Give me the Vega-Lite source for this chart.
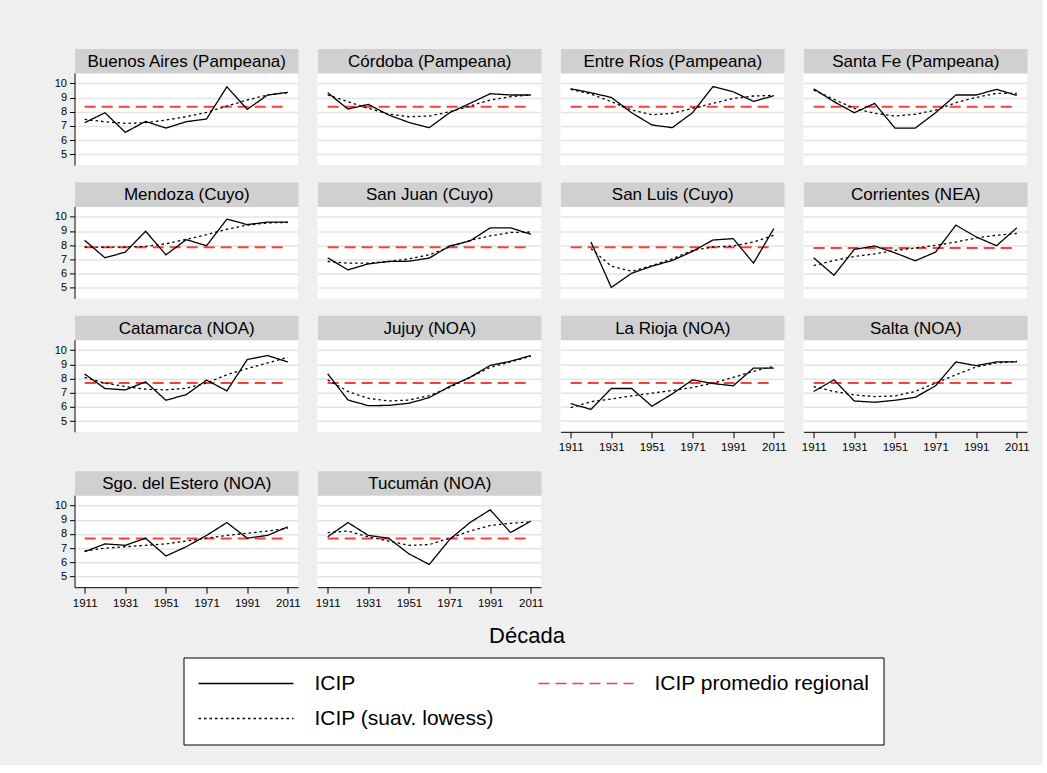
{
  "$schema": "https://vega.github.io/schema/vega-lite/v6.json",
  "background": "#efefef",
  "padding": {"left": 53.5, "top": 52, "right": 13, "bottom": 20},
  "data": {"values": [
    {"provincia": "Buenos Aires (Pampeana)", "decada": 1911, "icip": 7.23, "lowess": 7.46, "promedio": 8.35},
    {"provincia": "Buenos Aires (Pampeana)", "decada": 1921, "icip": 7.93, "lowess": 7.3, "promedio": 8.35},
    {"provincia": "Buenos Aires (Pampeana)", "decada": 1931, "icip": 6.55, "lowess": 7.18, "promedio": 8.35},
    {"provincia": "Buenos Aires (Pampeana)", "decada": 1941, "icip": 7.32, "lowess": 7.23, "promedio": 8.35},
    {"provincia": "Buenos Aires (Pampeana)", "decada": 1951, "icip": 6.85, "lowess": 7.42, "promedio": 8.35},
    {"provincia": "Buenos Aires (Pampeana)", "decada": 1961, "icip": 7.3, "lowess": 7.65, "promedio": 8.35},
    {"provincia": "Buenos Aires (Pampeana)", "decada": 1971, "icip": 7.49, "lowess": 7.96, "promedio": 8.35},
    {"provincia": "Buenos Aires (Pampeana)", "decada": 1981, "icip": 9.76, "lowess": 8.4, "promedio": 8.35},
    {"provincia": "Buenos Aires (Pampeana)", "decada": 1991, "icip": 8.17, "lowess": 8.83, "promedio": 8.35},
    {"provincia": "Buenos Aires (Pampeana)", "decada": 2001, "icip": 9.18, "lowess": 9.18, "promedio": 8.35},
    {"provincia": "Buenos Aires (Pampeana)", "decada": 2011, "icip": 9.37, "lowess": 9.34, "promedio": 8.35},
    {"provincia": "Córdoba (Pampeana)", "decada": 1911, "icip": 9.34, "lowess": 9.18, "promedio": 8.35},
    {"provincia": "Córdoba (Pampeana)", "decada": 1921, "icip": 8.19, "lowess": 8.71, "promedio": 8.35},
    {"provincia": "Córdoba (Pampeana)", "decada": 1931, "icip": 8.52, "lowess": 8.24, "promedio": 8.35},
    {"provincia": "Córdoba (Pampeana)", "decada": 1941, "icip": 7.77, "lowess": 7.84, "promedio": 8.35},
    {"provincia": "Córdoba (Pampeana)", "decada": 1951, "icip": 7.25, "lowess": 7.65, "promedio": 8.35},
    {"provincia": "Córdoba (Pampeana)", "decada": 1961, "icip": 6.88, "lowess": 7.7, "promedio": 8.35},
    {"provincia": "Córdoba (Pampeana)", "decada": 1971, "icip": 7.93, "lowess": 8.0, "promedio": 8.35},
    {"provincia": "Córdoba (Pampeana)", "decada": 1981, "icip": 8.59, "lowess": 8.4, "promedio": 8.35},
    {"provincia": "Córdoba (Pampeana)", "decada": 1991, "icip": 9.27, "lowess": 8.83, "promedio": 8.35},
    {"provincia": "Córdoba (Pampeana)", "decada": 2001, "icip": 9.18, "lowess": 9.06, "promedio": 8.35},
    {"provincia": "Córdoba (Pampeana)", "decada": 2011, "icip": 9.18, "lowess": 9.18, "promedio": 8.35},
    {"provincia": "Entre Ríos (Pampeana)", "decada": 1911, "icip": 9.62, "lowess": 9.58, "promedio": 8.35},
    {"provincia": "Entre Ríos (Pampeana)", "decada": 1921, "icip": 9.34, "lowess": 9.25, "promedio": 8.35},
    {"provincia": "Entre Ríos (Pampeana)", "decada": 1931, "icip": 9.01, "lowess": 8.71, "promedio": 8.35},
    {"provincia": "Entre Ríos (Pampeana)", "decada": 1941, "icip": 7.93, "lowess": 8.12, "promedio": 8.35},
    {"provincia": "Entre Ríos (Pampeana)", "decada": 1951, "icip": 7.07, "lowess": 7.79, "promedio": 8.35},
    {"provincia": "Entre Ríos (Pampeana)", "decada": 1961, "icip": 6.88, "lowess": 7.89, "promedio": 8.35},
    {"provincia": "Entre Ríos (Pampeana)", "decada": 1971, "icip": 7.93, "lowess": 8.24, "promedio": 8.35},
    {"provincia": "Entre Ríos (Pampeana)", "decada": 1981, "icip": 9.77, "lowess": 8.59, "promedio": 8.35},
    {"provincia": "Entre Ríos (Pampeana)", "decada": 1991, "icip": 9.41, "lowess": 8.94, "promedio": 8.35},
    {"provincia": "Entre Ríos (Pampeana)", "decada": 2001, "icip": 8.73, "lowess": 9.11, "promedio": 8.35},
    {"provincia": "Entre Ríos (Pampeana)", "decada": 2011, "icip": 9.13, "lowess": 9.15, "promedio": 8.35},
    {"provincia": "Santa Fe (Pampeana)", "decada": 1911, "icip": 9.62, "lowess": 9.53, "promedio": 8.35},
    {"provincia": "Santa Fe (Pampeana)", "decada": 1921, "icip": 8.71, "lowess": 8.87, "promedio": 8.35},
    {"provincia": "Santa Fe (Pampeana)", "decada": 1931, "icip": 7.93, "lowess": 8.24, "promedio": 8.35},
    {"provincia": "Santa Fe (Pampeana)", "decada": 1941, "icip": 8.59, "lowess": 7.89, "promedio": 8.35},
    {"provincia": "Santa Fe (Pampeana)", "decada": 1951, "icip": 6.85, "lowess": 7.7, "promedio": 8.35},
    {"provincia": "Santa Fe (Pampeana)", "decada": 1961, "icip": 6.85, "lowess": 7.82, "promedio": 8.35},
    {"provincia": "Santa Fe (Pampeana)", "decada": 1971, "icip": 7.93, "lowess": 8.12, "promedio": 8.35},
    {"provincia": "Santa Fe (Pampeana)", "decada": 1981, "icip": 9.18, "lowess": 8.64, "promedio": 8.35},
    {"provincia": "Santa Fe (Pampeana)", "decada": 1991, "icip": 9.18, "lowess": 9.01, "promedio": 8.35},
    {"provincia": "Santa Fe (Pampeana)", "decada": 2001, "icip": 9.58, "lowess": 9.3, "promedio": 8.35},
    {"provincia": "Santa Fe (Pampeana)", "decada": 2011, "icip": 9.15, "lowess": 9.3, "promedio": 8.35},
    {"provincia": "Mendoza (Cuyo)", "decada": 1911, "icip": 8.34, "lowess": 7.87, "promedio": 7.86},
    {"provincia": "Mendoza (Cuyo)", "decada": 1921, "icip": 7.11, "lowess": 7.85, "promedio": 7.86},
    {"provincia": "Mendoza (Cuyo)", "decada": 1931, "icip": 7.51, "lowess": 7.87, "promedio": 7.86},
    {"provincia": "Mendoza (Cuyo)", "decada": 1941, "icip": 8.98, "lowess": 7.91, "promedio": 7.86},
    {"provincia": "Mendoza (Cuyo)", "decada": 1951, "icip": 7.32, "lowess": 8.1, "promedio": 7.86},
    {"provincia": "Mendoza (Cuyo)", "decada": 1961, "icip": 8.39, "lowess": 8.41, "promedio": 7.86},
    {"provincia": "Mendoza (Cuyo)", "decada": 1971, "icip": 7.96, "lowess": 8.74, "promedio": 7.86},
    {"provincia": "Mendoza (Cuyo)", "decada": 1981, "icip": 9.83, "lowess": 9.12, "promedio": 7.86},
    {"provincia": "Mendoza (Cuyo)", "decada": 1991, "icip": 9.45, "lowess": 9.41, "promedio": 7.86},
    {"provincia": "Mendoza (Cuyo)", "decada": 2001, "icip": 9.62, "lowess": 9.57, "promedio": 7.86},
    {"provincia": "Mendoza (Cuyo)", "decada": 2011, "icip": 9.62, "lowess": 9.6, "promedio": 7.86},
    {"provincia": "San Juan (Cuyo)", "decada": 1911, "icip": 7.11, "lowess": 6.85, "promedio": 7.86},
    {"provincia": "San Juan (Cuyo)", "decada": 1921, "icip": 6.26, "lowess": 6.73, "promedio": 7.86},
    {"provincia": "San Juan (Cuyo)", "decada": 1931, "icip": 6.68, "lowess": 6.73, "promedio": 7.86},
    {"provincia": "San Juan (Cuyo)", "decada": 1941, "icip": 6.85, "lowess": 6.85, "promedio": 7.86},
    {"provincia": "San Juan (Cuyo)", "decada": 1951, "icip": 6.87, "lowess": 7.04, "promedio": 7.86},
    {"provincia": "San Juan (Cuyo)", "decada": 1961, "icip": 7.09, "lowess": 7.32, "promedio": 7.86},
    {"provincia": "San Juan (Cuyo)", "decada": 1971, "icip": 7.94, "lowess": 7.87, "promedio": 7.86},
    {"provincia": "San Juan (Cuyo)", "decada": 1981, "icip": 8.29, "lowess": 8.34, "promedio": 7.86},
    {"provincia": "San Juan (Cuyo)", "decada": 1991, "icip": 9.22, "lowess": 8.65, "promedio": 7.86},
    {"provincia": "San Juan (Cuyo)", "decada": 2001, "icip": 9.22, "lowess": 8.89, "promedio": 7.86},
    {"provincia": "San Juan (Cuyo)", "decada": 2011, "icip": 8.77, "lowess": 8.93, "promedio": 7.86},
    {"provincia": "San Luis (Cuyo)", "decada": 1911, "icip": null, "lowess": null, "promedio": 7.86},
    {"provincia": "San Luis (Cuyo)", "decada": 1921, "icip": 8.22, "lowess": 7.75, "promedio": 7.86},
    {"provincia": "San Luis (Cuyo)", "decada": 1931, "icip": 5.02, "lowess": 6.52, "promedio": 7.86},
    {"provincia": "San Luis (Cuyo)", "decada": 1941, "icip": 6.02, "lowess": 6.16, "promedio": 7.86},
    {"provincia": "San Luis (Cuyo)", "decada": 1951, "icip": 6.52, "lowess": 6.56, "promedio": 7.86},
    {"provincia": "San Luis (Cuyo)", "decada": 1961, "icip": 6.92, "lowess": 7.04, "promedio": 7.86},
    {"provincia": "San Luis (Cuyo)", "decada": 1971, "icip": 7.56, "lowess": 7.63, "promedio": 7.86},
    {"provincia": "San Luis (Cuyo)", "decada": 1981, "icip": 8.36, "lowess": 7.87, "promedio": 7.86},
    {"provincia": "San Luis (Cuyo)", "decada": 1991, "icip": 8.46, "lowess": 7.94, "promedio": 7.86},
    {"provincia": "San Luis (Cuyo)", "decada": 2001, "icip": 6.73, "lowess": 8.22, "promedio": 7.86},
    {"provincia": "San Luis (Cuyo)", "decada": 2011, "icip": 9.17, "lowess": 8.7, "promedio": 7.86},
    {"provincia": "Corrientes (NEA)", "decada": 1911, "icip": 7.11, "lowess": 6.56, "promedio": 7.8},
    {"provincia": "Corrientes (NEA)", "decada": 1921, "icip": 5.88, "lowess": 6.92, "promedio": 7.8},
    {"provincia": "Corrientes (NEA)", "decada": 1931, "icip": 7.7, "lowess": 7.2, "promedio": 7.8},
    {"provincia": "Corrientes (NEA)", "decada": 1941, "icip": 7.94, "lowess": 7.39, "promedio": 7.8},
    {"provincia": "Corrientes (NEA)", "decada": 1951, "icip": 7.46, "lowess": 7.63, "promedio": 7.8},
    {"provincia": "Corrientes (NEA)", "decada": 1961, "icip": 6.9, "lowess": 7.8, "promedio": 7.8},
    {"provincia": "Corrientes (NEA)", "decada": 1971, "icip": 7.51, "lowess": 7.99, "promedio": 7.8},
    {"provincia": "Corrientes (NEA)", "decada": 1981, "icip": 9.41, "lowess": 8.22, "promedio": 7.8},
    {"provincia": "Corrientes (NEA)", "decada": 1991, "icip": 8.58, "lowess": 8.51, "promedio": 7.8},
    {"provincia": "Corrientes (NEA)", "decada": 2001, "icip": 7.96, "lowess": 8.7, "promedio": 7.8},
    {"provincia": "Corrientes (NEA)", "decada": 2011, "icip": 9.22, "lowess": 8.82, "promedio": 7.8},
    {"provincia": "Catamarca (NOA)", "decada": 1911, "icip": 8.32, "lowess": 8.08, "promedio": 7.68},
    {"provincia": "Catamarca (NOA)", "decada": 1921, "icip": 7.3, "lowess": 7.68, "promedio": 7.68},
    {"provincia": "Catamarca (NOA)", "decada": 1931, "icip": 7.2, "lowess": 7.44, "promedio": 7.68},
    {"provincia": "Catamarca (NOA)", "decada": 1941, "icip": 7.77, "lowess": 7.25, "promedio": 7.68},
    {"provincia": "Catamarca (NOA)", "decada": 1951, "icip": 6.47, "lowess": 7.2, "promedio": 7.68},
    {"provincia": "Catamarca (NOA)", "decada": 1961, "icip": 6.87, "lowess": 7.32, "promedio": 7.68},
    {"provincia": "Catamarca (NOA)", "decada": 1971, "icip": 7.89, "lowess": 7.68, "promedio": 7.68},
    {"provincia": "Catamarca (NOA)", "decada": 1981, "icip": 7.13, "lowess": 8.27, "promedio": 7.68},
    {"provincia": "Catamarca (NOA)", "decada": 1991, "icip": 9.34, "lowess": 8.7, "promedio": 7.68},
    {"provincia": "Catamarca (NOA)", "decada": 2001, "icip": 9.62, "lowess": 9.1, "promedio": 7.68},
    {"provincia": "Catamarca (NOA)", "decada": 2011, "icip": 9.17, "lowess": 9.5, "promedio": 7.68},
    {"provincia": "Jujuy (NOA)", "decada": 1911, "icip": 8.34, "lowess": 7.91, "promedio": 7.68},
    {"provincia": "Jujuy (NOA)", "decada": 1921, "icip": 6.49, "lowess": 7.09, "promedio": 7.68},
    {"provincia": "Jujuy (NOA)", "decada": 1931, "icip": 6.09, "lowess": 6.61, "promedio": 7.68},
    {"provincia": "Jujuy (NOA)", "decada": 1941, "icip": 6.11, "lowess": 6.42, "promedio": 7.68},
    {"provincia": "Jujuy (NOA)", "decada": 1951, "icip": 6.26, "lowess": 6.49, "promedio": 7.68},
    {"provincia": "Jujuy (NOA)", "decada": 1961, "icip": 6.66, "lowess": 6.8, "promedio": 7.68},
    {"provincia": "Jujuy (NOA)", "decada": 1971, "icip": 7.44, "lowess": 7.37, "promedio": 7.68},
    {"provincia": "Jujuy (NOA)", "decada": 1981, "icip": 8.08, "lowess": 8.08, "promedio": 7.68},
    {"provincia": "Jujuy (NOA)", "decada": 1991, "icip": 8.93, "lowess": 8.79, "promedio": 7.68},
    {"provincia": "Jujuy (NOA)", "decada": 2001, "icip": 9.22, "lowess": 9.17, "promedio": 7.68},
    {"provincia": "Jujuy (NOA)", "decada": 2011, "icip": 9.62, "lowess": 9.57, "promedio": 7.68},
    {"provincia": "La Rioja (NOA)", "decada": 1911, "icip": 6.23, "lowess": 5.95, "promedio": 7.68},
    {"provincia": "La Rioja (NOA)", "decada": 1921, "icip": 5.83, "lowess": 6.37, "promedio": 7.68},
    {"provincia": "La Rioja (NOA)", "decada": 1931, "icip": 7.3, "lowess": 6.56, "promedio": 7.68},
    {"provincia": "La Rioja (NOA)", "decada": 1941, "icip": 7.3, "lowess": 6.78, "promedio": 7.68},
    {"provincia": "La Rioja (NOA)", "decada": 1951, "icip": 6.05, "lowess": 6.97, "promedio": 7.68},
    {"provincia": "La Rioja (NOA)", "decada": 1961, "icip": 6.92, "lowess": 7.16, "promedio": 7.68},
    {"provincia": "La Rioja (NOA)", "decada": 1971, "icip": 7.91, "lowess": 7.37, "promedio": 7.68},
    {"provincia": "La Rioja (NOA)", "decada": 1981, "icip": 7.65, "lowess": 7.68, "promedio": 7.68},
    {"provincia": "La Rioja (NOA)", "decada": 1991, "icip": 7.49, "lowess": 8.08, "promedio": 7.68},
    {"provincia": "La Rioja (NOA)", "decada": 2001, "icip": 8.74, "lowess": 8.51, "promedio": 7.68},
    {"provincia": "La Rioja (NOA)", "decada": 2011, "icip": 8.74, "lowess": 8.86, "promedio": 7.68},
    {"provincia": "Salta (NOA)", "decada": 1911, "icip": 7.09, "lowess": 7.44, "promedio": 7.68},
    {"provincia": "Salta (NOA)", "decada": 1921, "icip": 7.91, "lowess": 7.09, "promedio": 7.68},
    {"provincia": "Salta (NOA)", "decada": 1931, "icip": 6.42, "lowess": 6.85, "promedio": 7.68},
    {"provincia": "Salta (NOA)", "decada": 1941, "icip": 6.33, "lowess": 6.73, "promedio": 7.68},
    {"provincia": "Salta (NOA)", "decada": 1951, "icip": 6.47, "lowess": 6.78, "promedio": 7.68},
    {"provincia": "Salta (NOA)", "decada": 1961, "icip": 6.68, "lowess": 7.09, "promedio": 7.68},
    {"provincia": "Salta (NOA)", "decada": 1971, "icip": 7.49, "lowess": 7.68, "promedio": 7.68},
    {"provincia": "Salta (NOA)", "decada": 1981, "icip": 9.17, "lowess": 8.27, "promedio": 7.68},
    {"provincia": "Salta (NOA)", "decada": 1991, "icip": 8.91, "lowess": 8.82, "promedio": 7.68},
    {"provincia": "Salta (NOA)", "decada": 2001, "icip": 9.17, "lowess": 9.1, "promedio": 7.68},
    {"provincia": "Salta (NOA)", "decada": 2011, "icip": 9.17, "lowess": 9.22, "promedio": 7.68},
    {"provincia": "Sgo. del Estero (NOA)", "decada": 1911, "icip": 6.75, "lowess": 6.8, "promedio": 7.68},
    {"provincia": "Sgo. del Estero (NOA)", "decada": 1921, "icip": 7.3, "lowess": 7.0, "promedio": 7.68},
    {"provincia": "Sgo. del Estero (NOA)", "decada": 1931, "icip": 7.2, "lowess": 7.1, "promedio": 7.68},
    {"provincia": "Sgo. del Estero (NOA)", "decada": 1941, "icip": 7.7, "lowess": 7.2, "promedio": 7.68},
    {"provincia": "Sgo. del Estero (NOA)", "decada": 1951, "icip": 6.45, "lowess": 7.3, "promedio": 7.68},
    {"provincia": "Sgo. del Estero (NOA)", "decada": 1961, "icip": 7.1, "lowess": 7.5, "promedio": 7.68},
    {"provincia": "Sgo. del Estero (NOA)", "decada": 1971, "icip": 7.9, "lowess": 7.7, "promedio": 7.68},
    {"provincia": "Sgo. del Estero (NOA)", "decada": 1981, "icip": 8.8, "lowess": 7.9, "promedio": 7.68},
    {"provincia": "Sgo. del Estero (NOA)", "decada": 1991, "icip": 7.7, "lowess": 8.05, "promedio": 7.68},
    {"provincia": "Sgo. del Estero (NOA)", "decada": 2001, "icip": 7.9, "lowess": 8.2, "promedio": 7.68},
    {"provincia": "Sgo. del Estero (NOA)", "decada": 2011, "icip": 8.5, "lowess": 8.4, "promedio": 7.68},
    {"provincia": "Tucumán (NOA)", "decada": 1911, "icip": 7.8, "lowess": 8.1, "promedio": 7.68},
    {"provincia": "Tucumán (NOA)", "decada": 1921, "icip": 8.8, "lowess": 8.2, "promedio": 7.68},
    {"provincia": "Tucumán (NOA)", "decada": 1931, "icip": 7.9, "lowess": 7.8, "promedio": 7.68},
    {"provincia": "Tucumán (NOA)", "decada": 1941, "icip": 7.7, "lowess": 7.5, "promedio": 7.68},
    {"provincia": "Tucumán (NOA)", "decada": 1951, "icip": 6.6, "lowess": 7.2, "promedio": 7.68},
    {"provincia": "Tucumán (NOA)", "decada": 1961, "icip": 5.85, "lowess": 7.25, "promedio": 7.68},
    {"provincia": "Tucumán (NOA)", "decada": 1971, "icip": 7.6, "lowess": 7.7, "promedio": 7.68},
    {"provincia": "Tucumán (NOA)", "decada": 1981, "icip": 8.8, "lowess": 8.2, "promedio": 7.68},
    {"provincia": "Tucumán (NOA)", "decada": 1991, "icip": 9.7, "lowess": 8.6, "promedio": 7.68},
    {"provincia": "Tucumán (NOA)", "decada": 2001, "icip": 8.1, "lowess": 8.75, "promedio": 7.68},
    {"provincia": "Tucumán (NOA)", "decada": 2011, "icip": 8.9, "lowess": 8.85, "promedio": 7.68}
  ]},
  "transform": [{"fold": ["icip", "lowess", "promedio"], "as": ["serie", "valor"]}],
  "spacing": 8,
  "vconcat": [
    {
      "columns": 4,
      "spacing": {"row": 20.4, "column": 14},
      "align": "each",
      "concat": [
        {
          "width": 223.5, "height": 92,
          "transform": [{"filter": "datum.provincia === 'Buenos Aires (Pampeana)'"}],
          "encoding": {
            "y": {"field": "valor", "type": "quantitative", "scale": {"domain": [4.25, 10.73], "nice": false, "zero": false}, "axis": {"values": [5, 6, 7, 8, 9, 10], "title": null, "tickSize": 5, "labelFontSize": 11, "labelPadding": 3}},
            "color": {"field": "serie", "type": "nominal", "scale": {"domain": ["icip", "promedio", "lowess"], "range": ["#000000", "#ff3b3b", "#000000"]},
              "legend": {"orient": "none", "legendX": 109, "legendY": 584.5, "labelExpr": "datum.label == 'icip' ? 'ICIP' : datum.label == 'lowess' ? 'ICIP (suav. lowess)' : 'ICIP promedio regional'"}},
            "strokeDash": {"field": "serie", "type": "nominal", "scale": {"domain": ["icip", "promedio", "lowess"], "range": [[1, 0], [11, 6], [2.5, 3]]},
              "legend": {"orient": "none", "legendX": 109, "legendY": 584.5, "labelExpr": "datum.label == 'icip' ? 'ICIP' : datum.label == 'lowess' ? 'ICIP (suav. lowess)' : 'ICIP promedio regional'"}}
          },
          "layer": [
            {"transform": [{"filter": "datum.serie === 'promedio'"}], "mark": {"type": "line", "strokeWidth": 2}, "encoding": {"x": {"field": "decada", "type": "quantitative", "scale": {"domain": [1906, 2016], "nice": false, "zero": false}, "axis": {"orient": "top", "title": "Buenos Aires (Pampeana)", "grid": false, "ticks": false, "labels": false, "domainColor": "#d0d0d0", "domainWidth": 24.5, "offset": 12.25, "titleFontSize": 17, "titleFontWeight": "normal", "titleBaseline": "middle", "titleY": 0.5}}}},
            {"transform": [{"filter": "datum.serie !== 'promedio'"}], "mark": {"type": "line", "strokeWidth": 1.3}, "encoding": {"x": {"field": "decada", "type": "quantitative", "axis": {"values": [1911, 1931, 1951, 1971, 1991, 2011], "title": null, "domain": false, "ticks": false, "labels": false}}}}
          ],
          "resolve": {"axis": {"x": "independent"}}
        },
        {
          "width": 223.5, "height": 92,
          "transform": [{"filter": "datum.provincia === 'Córdoba (Pampeana)'"}],
          "encoding": {
            "y": {"field": "valor", "type": "quantitative", "scale": {"domain": [4.25, 10.73], "nice": false, "zero": false}, "axis": {"values": [5, 6, 7, 8, 9, 10], "title": null, "domain": false, "ticks": false, "labels": false}},
            "color": {"field": "serie", "type": "nominal"},
            "strokeDash": {"field": "serie", "type": "nominal"}
          },
          "layer": [
            {"transform": [{"filter": "datum.serie === 'promedio'"}], "mark": {"type": "line", "strokeWidth": 2}, "encoding": {"x": {"field": "decada", "type": "quantitative", "scale": {"domain": [1906, 2016], "nice": false, "zero": false}, "axis": {"orient": "top", "title": "Córdoba (Pampeana)", "grid": false, "ticks": false, "labels": false, "domainColor": "#d0d0d0", "domainWidth": 24.5, "offset": 12.25, "titleFontSize": 17, "titleFontWeight": "normal", "titleBaseline": "middle", "titleY": 0.5}}}},
            {"transform": [{"filter": "datum.serie !== 'promedio'"}], "mark": {"type": "line", "strokeWidth": 1.3}, "encoding": {"x": {"field": "decada", "type": "quantitative", "axis": {"values": [1911, 1931, 1951, 1971, 1991, 2011], "title": null, "domain": false, "ticks": false, "labels": false}}}}
          ],
          "resolve": {"axis": {"x": "independent"}}
        },
        {
          "width": 223.5, "height": 92,
          "transform": [{"filter": "datum.provincia === 'Entre Ríos (Pampeana)'"}],
          "encoding": {
            "y": {"field": "valor", "type": "quantitative", "scale": {"domain": [4.25, 10.73], "nice": false, "zero": false}, "axis": {"values": [5, 6, 7, 8, 9, 10], "title": null, "domain": false, "ticks": false, "labels": false}},
            "color": {"field": "serie", "type": "nominal"},
            "strokeDash": {"field": "serie", "type": "nominal"}
          },
          "layer": [
            {"transform": [{"filter": "datum.serie === 'promedio'"}], "mark": {"type": "line", "strokeWidth": 2}, "encoding": {"x": {"field": "decada", "type": "quantitative", "scale": {"domain": [1906, 2016], "nice": false, "zero": false}, "axis": {"orient": "top", "title": "Entre Ríos (Pampeana)", "grid": false, "ticks": false, "labels": false, "domainColor": "#d0d0d0", "domainWidth": 24.5, "offset": 12.25, "titleFontSize": 17, "titleFontWeight": "normal", "titleBaseline": "middle", "titleY": 0.5}}}},
            {"transform": [{"filter": "datum.serie !== 'promedio'"}], "mark": {"type": "line", "strokeWidth": 1.3}, "encoding": {"x": {"field": "decada", "type": "quantitative", "axis": {"values": [1911, 1931, 1951, 1971, 1991, 2011], "title": null, "domain": false, "ticks": false, "labels": false}}}}
          ],
          "resolve": {"axis": {"x": "independent"}}
        },
        {
          "width": 223.5, "height": 92,
          "transform": [{"filter": "datum.provincia === 'Santa Fe (Pampeana)'"}],
          "encoding": {
            "y": {"field": "valor", "type": "quantitative", "scale": {"domain": [4.25, 10.73], "nice": false, "zero": false}, "axis": {"values": [5, 6, 7, 8, 9, 10], "title": null, "domain": false, "ticks": false, "labels": false}},
            "color": {"field": "serie", "type": "nominal"},
            "strokeDash": {"field": "serie", "type": "nominal"}
          },
          "layer": [
            {"transform": [{"filter": "datum.serie === 'promedio'"}], "mark": {"type": "line", "strokeWidth": 2}, "encoding": {"x": {"field": "decada", "type": "quantitative", "scale": {"domain": [1906, 2016], "nice": false, "zero": false}, "axis": {"orient": "top", "title": "Santa Fe (Pampeana)", "grid": false, "ticks": false, "labels": false, "domainColor": "#d0d0d0", "domainWidth": 24.5, "offset": 12.25, "titleFontSize": 17, "titleFontWeight": "normal", "titleBaseline": "middle", "titleY": 0.5}}}},
            {"transform": [{"filter": "datum.serie !== 'promedio'"}], "mark": {"type": "line", "strokeWidth": 1.3}, "encoding": {"x": {"field": "decada", "type": "quantitative", "axis": {"values": [1911, 1931, 1951, 1971, 1991, 2011], "title": null, "domain": false, "ticks": false, "labels": false}}}}
          ],
          "resolve": {"axis": {"x": "independent"}}
        },
        {
          "width": 223.5, "height": 92,
          "transform": [{"filter": "datum.provincia === 'Mendoza (Cuyo)'"}],
          "encoding": {
            "y": {"field": "valor", "type": "quantitative", "scale": {"domain": [4.25, 10.73], "nice": false, "zero": false}, "axis": {"values": [5, 6, 7, 8, 9, 10], "title": null, "tickSize": 5, "labelFontSize": 11, "labelPadding": 3}},
            "color": {"field": "serie", "type": "nominal"},
            "strokeDash": {"field": "serie", "type": "nominal"}
          },
          "layer": [
            {"transform": [{"filter": "datum.serie === 'promedio'"}], "mark": {"type": "line", "strokeWidth": 2}, "encoding": {"x": {"field": "decada", "type": "quantitative", "scale": {"domain": [1906, 2016], "nice": false, "zero": false}, "axis": {"orient": "top", "title": "Mendoza (Cuyo)", "grid": false, "ticks": false, "labels": false, "domainColor": "#d0d0d0", "domainWidth": 24.5, "offset": 12.25, "titleFontSize": 17, "titleFontWeight": "normal", "titleBaseline": "middle", "titleY": 0.5}}}},
            {"transform": [{"filter": "datum.serie !== 'promedio'"}], "mark": {"type": "line", "strokeWidth": 1.3}, "encoding": {"x": {"field": "decada", "type": "quantitative", "axis": {"values": [1911, 1931, 1951, 1971, 1991, 2011], "title": null, "domain": false, "ticks": false, "labels": false}}}}
          ],
          "resolve": {"axis": {"x": "independent"}}
        },
        {
          "width": 223.5, "height": 92,
          "transform": [{"filter": "datum.provincia === 'San Juan (Cuyo)'"}],
          "encoding": {
            "y": {"field": "valor", "type": "quantitative", "scale": {"domain": [4.25, 10.73], "nice": false, "zero": false}, "axis": {"values": [5, 6, 7, 8, 9, 10], "title": null, "domain": false, "ticks": false, "labels": false}},
            "color": {"field": "serie", "type": "nominal"},
            "strokeDash": {"field": "serie", "type": "nominal"}
          },
          "layer": [
            {"transform": [{"filter": "datum.serie === 'promedio'"}], "mark": {"type": "line", "strokeWidth": 2}, "encoding": {"x": {"field": "decada", "type": "quantitative", "scale": {"domain": [1906, 2016], "nice": false, "zero": false}, "axis": {"orient": "top", "title": "San Juan (Cuyo)", "grid": false, "ticks": false, "labels": false, "domainColor": "#d0d0d0", "domainWidth": 24.5, "offset": 12.25, "titleFontSize": 17, "titleFontWeight": "normal", "titleBaseline": "middle", "titleY": 0.5}}}},
            {"transform": [{"filter": "datum.serie !== 'promedio'"}], "mark": {"type": "line", "strokeWidth": 1.3}, "encoding": {"x": {"field": "decada", "type": "quantitative", "axis": {"values": [1911, 1931, 1951, 1971, 1991, 2011], "title": null, "domain": false, "ticks": false, "labels": false}}}}
          ],
          "resolve": {"axis": {"x": "independent"}}
        },
        {
          "width": 223.5, "height": 92,
          "transform": [{"filter": "datum.provincia === 'San Luis (Cuyo)'"}],
          "encoding": {
            "y": {"field": "valor", "type": "quantitative", "scale": {"domain": [4.25, 10.73], "nice": false, "zero": false}, "axis": {"values": [5, 6, 7, 8, 9, 10], "title": null, "domain": false, "ticks": false, "labels": false}},
            "color": {"field": "serie", "type": "nominal"},
            "strokeDash": {"field": "serie", "type": "nominal"}
          },
          "layer": [
            {"transform": [{"filter": "datum.serie === 'promedio'"}], "mark": {"type": "line", "strokeWidth": 2}, "encoding": {"x": {"field": "decada", "type": "quantitative", "scale": {"domain": [1906, 2016], "nice": false, "zero": false}, "axis": {"orient": "top", "title": "San Luis (Cuyo)", "grid": false, "ticks": false, "labels": false, "domainColor": "#d0d0d0", "domainWidth": 24.5, "offset": 12.25, "titleFontSize": 17, "titleFontWeight": "normal", "titleBaseline": "middle", "titleY": 0.5}}}},
            {"transform": [{"filter": "datum.serie !== 'promedio'"}], "mark": {"type": "line", "strokeWidth": 1.3}, "encoding": {"x": {"field": "decada", "type": "quantitative", "axis": {"values": [1911, 1931, 1951, 1971, 1991, 2011], "title": null, "domain": false, "ticks": false, "labels": false}}}}
          ],
          "resolve": {"axis": {"x": "independent"}}
        },
        {
          "width": 223.5, "height": 92,
          "transform": [{"filter": "datum.provincia === 'Corrientes (NEA)'"}],
          "encoding": {
            "y": {"field": "valor", "type": "quantitative", "scale": {"domain": [4.25, 10.73], "nice": false, "zero": false}, "axis": {"values": [5, 6, 7, 8, 9, 10], "title": null, "domain": false, "ticks": false, "labels": false}},
            "color": {"field": "serie", "type": "nominal"},
            "strokeDash": {"field": "serie", "type": "nominal"}
          },
          "layer": [
            {"transform": [{"filter": "datum.serie === 'promedio'"}], "mark": {"type": "line", "strokeWidth": 2}, "encoding": {"x": {"field": "decada", "type": "quantitative", "scale": {"domain": [1906, 2016], "nice": false, "zero": false}, "axis": {"orient": "top", "title": "Corrientes (NEA)", "grid": false, "ticks": false, "labels": false, "domainColor": "#d0d0d0", "domainWidth": 24.5, "offset": 12.25, "titleFontSize": 17, "titleFontWeight": "normal", "titleBaseline": "middle", "titleY": 0.5}}}},
            {"transform": [{"filter": "datum.serie !== 'promedio'"}], "mark": {"type": "line", "strokeWidth": 1.3}, "encoding": {"x": {"field": "decada", "type": "quantitative", "axis": {"values": [1911, 1931, 1951, 1971, 1991, 2011], "title": null, "domain": false, "ticks": false, "labels": false}}}}
          ],
          "resolve": {"axis": {"x": "independent"}}
        },
        {
          "width": 223.5, "height": 92,
          "transform": [{"filter": "datum.provincia === 'Catamarca (NOA)'"}],
          "encoding": {
            "y": {"field": "valor", "type": "quantitative", "scale": {"domain": [4.25, 10.73], "nice": false, "zero": false}, "axis": {"values": [5, 6, 7, 8, 9, 10], "title": null, "tickSize": 5, "labelFontSize": 11, "labelPadding": 3}},
            "color": {"field": "serie", "type": "nominal"},
            "strokeDash": {"field": "serie", "type": "nominal"}
          },
          "layer": [
            {"transform": [{"filter": "datum.serie === 'promedio'"}], "mark": {"type": "line", "strokeWidth": 2}, "encoding": {"x": {"field": "decada", "type": "quantitative", "scale": {"domain": [1906, 2016], "nice": false, "zero": false}, "axis": {"orient": "top", "title": "Catamarca (NOA)", "grid": false, "ticks": false, "labels": false, "domainColor": "#d0d0d0", "domainWidth": 24.5, "offset": 12.25, "titleFontSize": 17, "titleFontWeight": "normal", "titleBaseline": "middle", "titleY": 0.5}}}},
            {"transform": [{"filter": "datum.serie !== 'promedio'"}], "mark": {"type": "line", "strokeWidth": 1.3}, "encoding": {"x": {"field": "decada", "type": "quantitative", "axis": {"values": [1911, 1931, 1951, 1971, 1991, 2011], "title": null, "domain": false, "ticks": false, "labels": false}}}}
          ],
          "resolve": {"axis": {"x": "independent"}}
        },
        {
          "width": 223.5, "height": 92,
          "transform": [{"filter": "datum.provincia === 'Jujuy (NOA)'"}],
          "encoding": {
            "y": {"field": "valor", "type": "quantitative", "scale": {"domain": [4.25, 10.73], "nice": false, "zero": false}, "axis": {"values": [5, 6, 7, 8, 9, 10], "title": null, "domain": false, "ticks": false, "labels": false}},
            "color": {"field": "serie", "type": "nominal"},
            "strokeDash": {"field": "serie", "type": "nominal"}
          },
          "layer": [
            {"transform": [{"filter": "datum.serie === 'promedio'"}], "mark": {"type": "line", "strokeWidth": 2}, "encoding": {"x": {"field": "decada", "type": "quantitative", "scale": {"domain": [1906, 2016], "nice": false, "zero": false}, "axis": {"orient": "top", "title": "Jujuy (NOA)", "grid": false, "ticks": false, "labels": false, "domainColor": "#d0d0d0", "domainWidth": 24.5, "offset": 12.25, "titleFontSize": 17, "titleFontWeight": "normal", "titleBaseline": "middle", "titleY": 0.5}}}},
            {"transform": [{"filter": "datum.serie !== 'promedio'"}], "mark": {"type": "line", "strokeWidth": 1.3}, "encoding": {"x": {"field": "decada", "type": "quantitative", "axis": {"values": [1911, 1931, 1951, 1971, 1991, 2011], "title": null, "domain": false, "ticks": false, "labels": false}}}}
          ],
          "resolve": {"axis": {"x": "independent"}}
        },
        {
          "width": 223.5, "height": 92,
          "transform": [{"filter": "datum.provincia === 'La Rioja (NOA)'"}],
          "encoding": {
            "y": {"field": "valor", "type": "quantitative", "scale": {"domain": [4.25, 10.73], "nice": false, "zero": false}, "axis": {"values": [5, 6, 7, 8, 9, 10], "title": null, "domain": false, "ticks": false, "labels": false}},
            "color": {"field": "serie", "type": "nominal"},
            "strokeDash": {"field": "serie", "type": "nominal"}
          },
          "layer": [
            {"transform": [{"filter": "datum.serie === 'promedio'"}], "mark": {"type": "line", "strokeWidth": 2}, "encoding": {"x": {"field": "decada", "type": "quantitative", "scale": {"domain": [1906, 2016], "nice": false, "zero": false}, "axis": {"orient": "top", "title": "La Rioja (NOA)", "grid": false, "ticks": false, "labels": false, "domainColor": "#d0d0d0", "domainWidth": 24.5, "offset": 12.25, "titleFontSize": 17, "titleFontWeight": "normal", "titleBaseline": "middle", "titleY": 0.5}}}},
            {"transform": [{"filter": "datum.serie !== 'promedio'"}], "mark": {"type": "line", "strokeWidth": 1.3}, "encoding": {"x": {"field": "decada", "type": "quantitative", "axis": {"values": [1911, 1931, 1951, 1971, 1991, 2011], "format": "d", "title": null, "tickSize": 6, "labelFontSize": 11.5, "labelPadding": 4}}}}
          ],
          "resolve": {"axis": {"x": "independent"}}
        },
        {
          "width": 223.5, "height": 92,
          "transform": [{"filter": "datum.provincia === 'Salta (NOA)'"}],
          "encoding": {
            "y": {"field": "valor", "type": "quantitative", "scale": {"domain": [4.25, 10.73], "nice": false, "zero": false}, "axis": {"values": [5, 6, 7, 8, 9, 10], "title": null, "domain": false, "ticks": false, "labels": false}},
            "color": {"field": "serie", "type": "nominal"},
            "strokeDash": {"field": "serie", "type": "nominal"}
          },
          "layer": [
            {"transform": [{"filter": "datum.serie === 'promedio'"}], "mark": {"type": "line", "strokeWidth": 2}, "encoding": {"x": {"field": "decada", "type": "quantitative", "scale": {"domain": [1906, 2016], "nice": false, "zero": false}, "axis": {"orient": "top", "title": "Salta (NOA)", "grid": false, "ticks": false, "labels": false, "domainColor": "#d0d0d0", "domainWidth": 24.5, "offset": 12.25, "titleFontSize": 17, "titleFontWeight": "normal", "titleBaseline": "middle", "titleY": 0.5}}}},
            {"transform": [{"filter": "datum.serie !== 'promedio'"}], "mark": {"type": "line", "strokeWidth": 1.3}, "encoding": {"x": {"field": "decada", "type": "quantitative", "axis": {"values": [1911, 1931, 1951, 1971, 1991, 2011], "format": "d", "title": null, "tickSize": 6, "labelFontSize": 11.5, "labelPadding": 4}}}}
          ],
          "resolve": {"axis": {"x": "independent"}}
        },
        {
          "width": 223.5, "height": 92,
          "transform": [{"filter": "datum.provincia === 'Sgo. del Estero (NOA)'"}],
          "encoding": {
            "y": {"field": "valor", "type": "quantitative", "scale": {"domain": [4.25, 10.73], "nice": false, "zero": false}, "axis": {"values": [5, 6, 7, 8, 9, 10], "title": null, "tickSize": 5, "labelFontSize": 11, "labelPadding": 3}},
            "color": {"field": "serie", "type": "nominal"},
            "strokeDash": {"field": "serie", "type": "nominal"}
          },
          "layer": [
            {"transform": [{"filter": "datum.serie === 'promedio'"}], "mark": {"type": "line", "strokeWidth": 2}, "encoding": {"x": {"field": "decada", "type": "quantitative", "scale": {"domain": [1906, 2016], "nice": false, "zero": false}, "axis": {"orient": "top", "title": "Sgo. del Estero (NOA)", "grid": false, "ticks": false, "labels": false, "domainColor": "#d0d0d0", "domainWidth": 24.5, "offset": 12.25, "titleFontSize": 17, "titleFontWeight": "normal", "titleBaseline": "middle", "titleY": 0.5}}}},
            {"transform": [{"filter": "datum.serie !== 'promedio'"}], "mark": {"type": "line", "strokeWidth": 1.3}, "encoding": {"x": {"field": "decada", "type": "quantitative", "axis": {"values": [1911, 1931, 1951, 1971, 1991, 2011], "format": "d", "title": null, "tickSize": 6, "labelFontSize": 11.5, "labelPadding": 4}}}}
          ],
          "resolve": {"axis": {"x": "independent"}}
        },
        {
          "width": 223.5, "height": 92,
          "transform": [{"filter": "datum.provincia === 'Tucumán (NOA)'"}],
          "encoding": {
            "y": {"field": "valor", "type": "quantitative", "scale": {"domain": [4.25, 10.73], "nice": false, "zero": false}, "axis": {"values": [5, 6, 7, 8, 9, 10], "title": null, "domain": false, "ticks": false, "labels": false}},
            "color": {"field": "serie", "type": "nominal"},
            "strokeDash": {"field": "serie", "type": "nominal"}
          },
          "layer": [
            {"transform": [{"filter": "datum.serie === 'promedio'"}], "mark": {"type": "line", "strokeWidth": 2}, "encoding": {"x": {"field": "decada", "type": "quantitative", "scale": {"domain": [1906, 2016], "nice": false, "zero": false}, "axis": {"orient": "top", "title": "Tucumán (NOA)", "grid": false, "ticks": false, "labels": false, "domainColor": "#d0d0d0", "domainWidth": 24.5, "offset": 12.25, "titleFontSize": 17, "titleFontWeight": "normal", "titleBaseline": "middle", "titleY": 0.5}}}},
            {"transform": [{"filter": "datum.serie !== 'promedio'"}], "mark": {"type": "line", "strokeWidth": 1.3}, "encoding": {"x": {"field": "decada", "type": "quantitative", "axis": {"values": [1911, 1931, 1951, 1971, 1991, 2011], "format": "d", "title": null, "tickSize": 6, "labelFontSize": 11.5, "labelPadding": 4}}}}
          ],
          "resolve": {"axis": {"x": "independent"}}
        }
      ]
    },
    {
      "width": 904, "height": 1,
      "view": {"stroke": null, "fill": null},
      "mark": {"type": "point", "opacity": 0},
      "encoding": {
        "x": {"field": "decada", "type": "quantitative", "axis": {"title": "Década", "domain": false, "ticks": false, "labels": false, "grid": false, "titleFontSize": 22, "titleFontWeight": "normal", "titlePadding": 4}}
      }
    }
  ],
  "config": {
    "font": "Liberation Sans",
    "view": {"stroke": null, "fill": "#ffffff"},
    "axis": {"gridColor": "#e4e4e4", "gridWidth": 1.5, "domainColor": "#000000", "tickColor": "#000000", "labelColor": "#000000", "titleColor": "#000000", "labelFont": "Liberation Sans", "titleFont": "Liberation Sans"},
    "legend": {
      "direction": "horizontal", "columns": 2, "title": null,
      "symbolType": "stroke", "symbolSize": 9025, "symbolStrokeWidth": 1.5, "clipHeight": 24,
      "labelFontSize": 21, "labelFont": "Liberation Sans", "labelColor": "#000000", "labelOffset": 20, "labelLimit": 400,
      "columnPadding": 43, "rowPadding": 11, "padding": 14,
      "strokeColor": "#000000", "fillColor": "#ffffff"
    }
  }
}
